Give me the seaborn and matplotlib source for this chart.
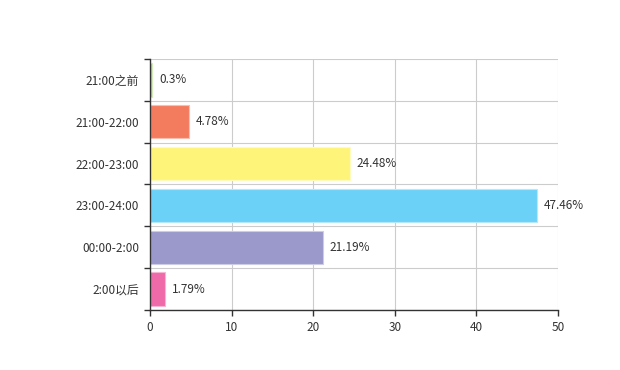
import matplotlib.pyplot as plt
import matplotlib.colors as mcolors
import numpy as np
import pandas as pd
import seaborn as sns

# Data
categories = ['21:00之前', '21:00-22:00', '22:00-23:00', '23:00-24:00', '00:00-2:00', '2:00以后']
values = [0.3, 4.78, 24.48, 47.46, 21.19, 1.79]
labels = ['0.3%', '4.78%', '24.48%', '47.46%', '21.19%', '1.79%']
colors = ['#a9d86e', '#f47c5e', '#fff47a', '#6cd1f7', '#9b98cb', '#ef6aa8']
x_ticks = [0, 10, 20, 30, 40, 50]

df = pd.DataFrame({'category': categories, 'value': values})

sns.set_theme(style='white')
plt.rcParams['font.family'] = ['Noto Sans CJK SC', 'DejaVu Sans']

fig = plt.figure(figsize=(6.2, 3.7), dpi=100)
ax = fig.add_axes([0.242, 0.162, 0.658, 0.679])

sns.barplot(
    data=df, x='value', y='category', hue='category', order=categories,
    palette=colors, saturation=1, legend=False, orient='h', width=0.8,
    linewidth=0.8, ax=ax, zorder=3
)
# light border around each bar
for patch, c in zip(ax.patches, colors):
    rgb = np.array(mcolors.to_rgb(c))
    patch.set_edgecolor(rgb * 0.5 + 0.5)

for i, (v, t) in enumerate(zip(values, labels)):
    ax.annotate(t, (v, i), xytext=(5, 0), textcoords='offset points',
                va='center', ha='left', fontsize=8.5, color='#333333', zorder=4)

ax.set_xlim(0, 50)
ax.set_ylim(len(categories) - 0.5, -0.5)
ax.set_xticks(x_ticks)
ax.set_xticklabels([str(t) for t in x_ticks])
ax.set_yticks(range(len(categories)))
ax.set_yticklabels(categories)
ax.set_yticks(np.arange(-0.5, len(categories), 1), minor=True)

ax.tick_params(axis='y', which='major', length=0, pad=8, labelsize=8.5, labelcolor='#333333')
ax.tick_params(axis='y', which='minor', length=4, width=1, color='#333333', left=True)
ax.tick_params(axis='x', which='major', length=4, width=1, color='#333333', bottom=True,
               labelsize=8.5, labelcolor='#333333', pad=4)

ax.grid(False)
ax.grid(axis='x', which='major', color='#cccccc', linewidth=0.8, zorder=0)
ax.grid(axis='y', which='minor', color='#cccccc', linewidth=0.8, zorder=0)
ax.set_axisbelow(True)

sns.despine(ax=ax, top=True, right=True)
for s in ['left', 'bottom']:
    ax.spines[s].set_color('#333333')
    ax.spines[s].set_linewidth(1)
    ax.spines[s].set_zorder(5)

ax.set_xlabel('')
ax.set_ylabel('')

fig.savefig('out.png', dpi=100)
